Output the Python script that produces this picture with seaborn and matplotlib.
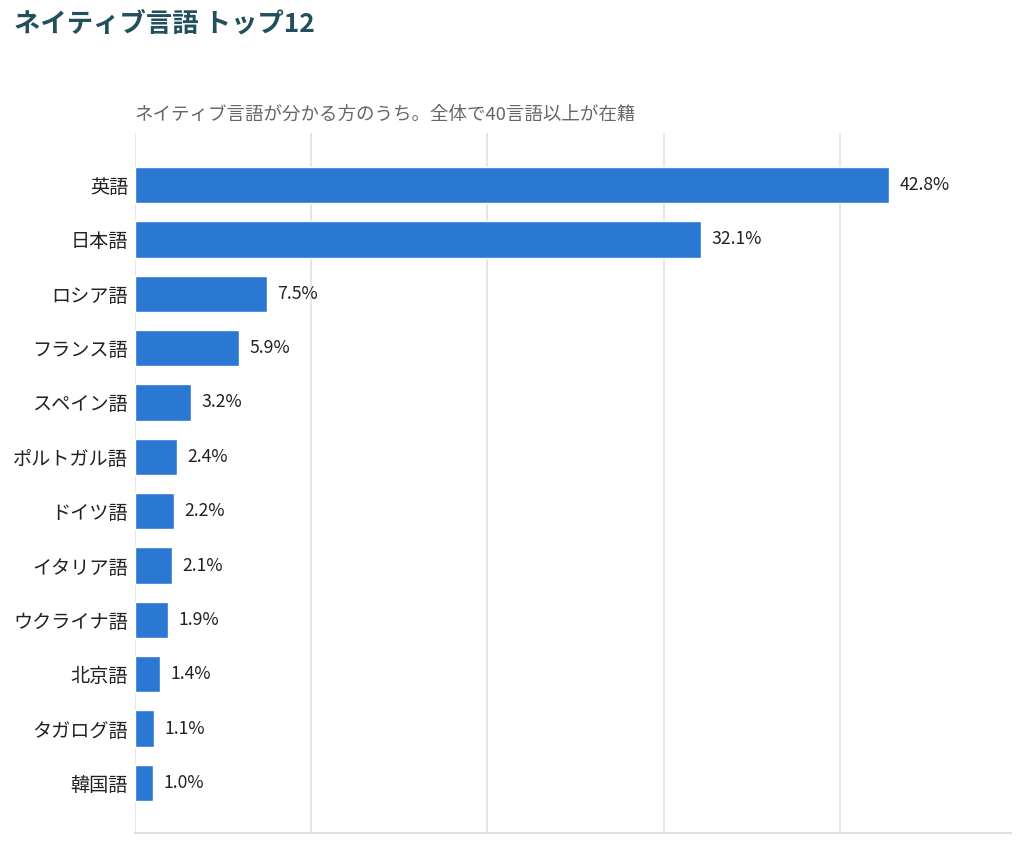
"""Horizontal bar chart of the top 12 native languages."""

import matplotlib.pyplot as plt
import pandas as pd
import seaborn as sns

languages = [
    "英語", "日本語", "ロシア語", "フランス語", "スペイン語", "ポルトガル語",
    "ドイツ語", "イタリア語", "ウクライナ語", "北京語", "タガログ語", "韓国語",
]
shares = [42.8, 32.1, 7.5, 5.9, 3.2, 2.4, 2.2, 2.1, 1.9, 1.4, 1.1, 1.0]

title = "ネイティブ言語 トップ12"
subtitle = "ネイティブ言語が分かる方のうち。全体で40言語以上が在籍"

df = pd.DataFrame({"language": languages, "share": shares})

sns.set_theme(style="white")
plt.rcParams["font.family"] = ["Noto Sans CJK JP", "DejaVu Sans"]

fig = plt.figure(figsize=(10.24, 8.46), dpi=100)
ax = fig.add_axes([0.1318, 0.0154, 0.8555, 0.8276])

sns.barplot(data=df, x="share", y="language", orient="h", color="#2b78d4",
            saturation=1, width=0.67, ax=ax)

for patch, val in zip(ax.patches, shares):
    ax.annotate(f"{val:.1f}%", (patch.get_width(), patch.get_y() + patch.get_height() / 2),
                xytext=(7.5, 0), textcoords="offset points", va="center", ha="left",
                fontsize=12.7, color="#222222")

ax.set_xlim(0, 49.7)
ax.set_ylim(11.92, -0.96)
ax.set_xticks([0, 10, 20, 30, 40])
ax.set_xticklabels([])
ax.xaxis.grid(True, color="#e6e6e6", linewidth=1.4)
ax.set_axisbelow(True)
ax.set_xlabel("")
ax.set_ylabel("")
ax.tick_params(axis="y", length=0, pad=5, labelsize=13.8, labelcolor="#222222")
ax.tick_params(axis="x", length=0)

for side in ["top", "right", "left"]:
    ax.spines[side].set_visible(False)
ax.spines["bottom"].set_color("#e0e0e0")
ax.spines["bottom"].set_linewidth(1.4)

fig.text(14 / 1024, 1 - 24 / 846, title, fontsize=19, fontweight="bold",
         color="#214f5c", va="center", ha="left")
fig.text(135 / 1024, 1 - 115 / 846, subtitle, fontsize=13.3, color="#666666",
         va="center", ha="left")

fig.savefig("out.png", dpi=100)
